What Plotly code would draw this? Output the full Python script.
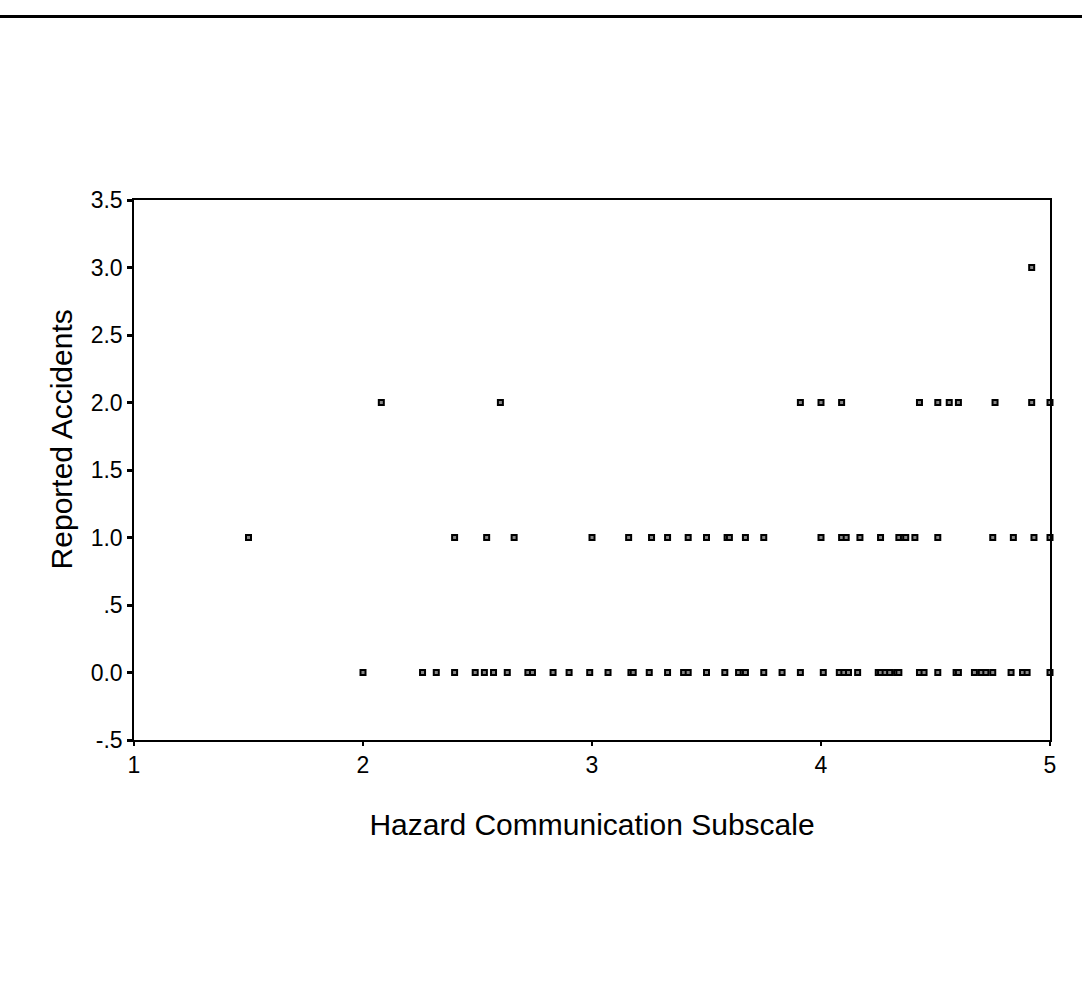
import plotly.graph_objects as go

# Reported accidents by hazard communication subscale score
x0_vals = [2.00, 2.26, 2.32, 2.40, 2.49, 2.53, 2.57, 2.63, 2.72, 2.74, 2.83, 2.90, 2.99,
           3.07, 3.17, 3.18, 3.25, 3.33, 3.40, 3.42, 3.50, 3.58, 3.64, 3.66, 3.67, 3.75,
           3.83, 3.91, 4.01, 4.08, 4.10, 4.12, 4.16, 4.25, 4.26, 4.28, 4.30, 4.33, 4.34,
           4.43, 4.45, 4.51, 4.59, 4.60, 4.67, 4.70, 4.72, 4.75, 4.83, 4.88, 4.90, 5.00]
x1_vals = [1.50, 2.40, 2.54, 2.66, 3.00, 3.16, 3.26, 3.33, 3.42, 3.50, 3.59, 3.60, 3.67,
           3.75, 4.00, 4.09, 4.11, 4.17, 4.26, 4.34, 4.36, 4.37, 4.41, 4.51, 4.75, 4.84,
           4.93, 5.00]
x2_vals = [2.08, 2.60, 3.91, 4.00, 4.09, 4.43, 4.51, 4.56, 4.60, 4.76, 4.92, 5.00]
x3_vals = [4.92]

xs = x0_vals + x1_vals + x2_vals + x3_vals
ys = [0] * len(x0_vals) + [1] * len(x1_vals) + [2] * len(x2_vals) + [3] * len(x3_vals)

y_tickvals = [3.5, 3.0, 2.5, 2.0, 1.5, 1.0, 0.5, 0.0, -0.5]
y_ticktext = ["3.5", "3.0", "2.5", "2.0", "1.5", "1.0", ".5", "0.0", "-.5"]
x_tickvals = [1, 2, 3, 4, 5]

FONT = "Liberation Sans, Arial, sans-serif"

fig = go.Figure()
fig.add_trace(go.Scatter(
    x=xs, y=ys, mode="markers",
    marker=dict(symbol="square", size=5, color="#888888",
                line=dict(color="black", width=2)),
    showlegend=False, cliponaxis=False,
))

fig.update_layout(
    width=1082, height=998,
    margin=dict(l=134, r=32, t=200, b=258),
    paper_bgcolor="white", plot_bgcolor="white",
    font=dict(family=FONT, color="black"),
    xaxis=dict(
        range=[1, 5], tickvals=x_tickvals, ticktext=[str(v) for v in x_tickvals],
        showgrid=False, zeroline=False, showline=True, mirror=True,
        linecolor="black", linewidth=1.5,
        ticks="outside", ticklen=4, tickwidth=2, tickcolor="black",
        tickfont=dict(size=23, family=FONT),
        title=dict(text="Hazard Communication Subscale",
                   font=dict(size=30, family=FONT), standoff=37),
    ),
    yaxis=dict(
        range=[-0.5, 3.5], tickvals=y_tickvals, ticktext=y_ticktext,
        showgrid=False, zeroline=False, showline=True, mirror=True,
        linecolor="black", linewidth=1.5,
        ticks="outside", ticklen=5, tickwidth=3, tickcolor="black",
        tickfont=dict(size=23, family=FONT),
    ),
    annotations=[dict(text="Reported Accidents", textangle=-90,
                      xref="paper", yref="paper", x=-0.079, y=0.556,
                      xanchor="center", yanchor="middle", showarrow=False,
                      font=dict(size=30, family=FONT, color="black"))],
    shapes=[dict(type="line", xref="paper", yref="paper",
                 x0=-0.15, x1=1.04, y0=1.34, y1=1.34,
                 line=dict(color="black", width=3))],
)

fig.write_html("out.html")
